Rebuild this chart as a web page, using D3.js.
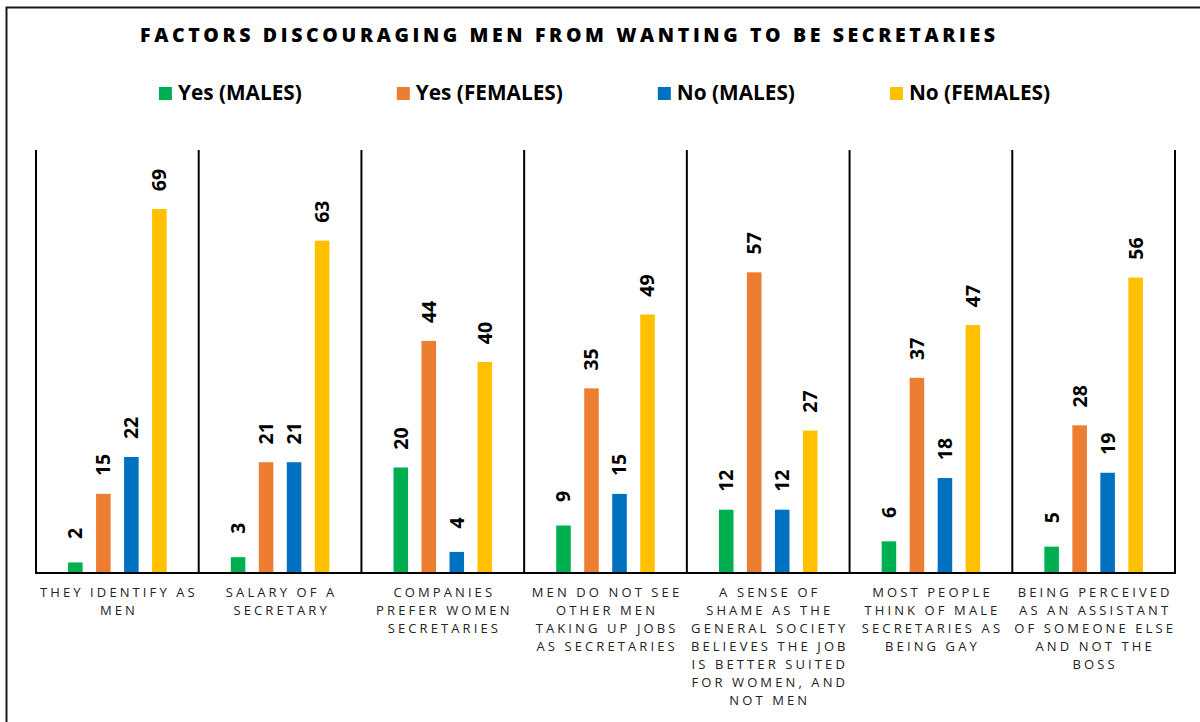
<!DOCTYPE html>
<html>
<head>
<meta charset="utf-8">
<script src="https://cdn.jsdelivr.net/npm/d3@7"></script>
<style>
  html, body { margin: 0; padding: 0; background: #fff; }
  svg { display: block; font-family: "Open Sans", "Noto Sans", sans-serif; }
</style>
</head>
<body>
<svg id="chart" width="1200" height="722"></svg>
<script>
// ---- data ----
const chartTitle = "FACTORS DISCOURAGING MEN FROM WANTING TO BE SECRETARIES";
const categories = [
  "THEY IDENTIFY AS MEN",
  "SALARY OF A SECRETARY",
  "COMPANIES PREFER WOMEN SECRETARIES",
  "MEN DO NOT SEE OTHER MEN TAKING UP JOBS AS SECRETARIES",
  "A SENSE OF SHAME AS THE GENERAL SOCIETY BELIEVES THE JOB IS BETTER SUITED FOR WOMEN, AND NOT MEN",
  "MOST PEOPLE THINK OF MALE SECRETARIES AS BEING GAY",
  "BEING PERCEIVED AS AN ASSISTANT OF SOMEONE ELSE AND NOT THE BOSS"
];
const seriesNames = ["Yes (MALES)", "Yes (FEMALES)", "No (MALES)", "No (FEMALES)"];
const yesMales   = [2, 3, 20, 9, 12, 6, 5];
const yesFemales = [15, 21, 44, 35, 57, 37, 28];
const noMales    = [22, 21, 4, 15, 12, 18, 19];
const noFemales  = [69, 63, 40, 49, 27, 47, 56];
const seriesColors = ["#00B050", "#ED7D31", "#0070C0", "#FFC000"];

const seriesValues = [yesMales, yesFemales, noMales, noFemales];
const rows = [];
categories.forEach((c, i) => {
  seriesNames.forEach((s, j) => rows.push({ cat: c, series: s, value: seriesValues[j][i], color: seriesColors[j] }));
});

// ---- layout ----
const svg = d3.select("#chart");
const plotLeft = 36, plotRight = 1175, plotTop = 150, plotBottom = 573;

svg.append("rect").attr("x", 0).attr("y", 0).attr("width", 1200).attr("height", 722).attr("fill", "#fff");
// outer chart border (extends past the visible area on the right and bottom)
svg.append("rect")
  .attr("x", 6.5).attr("y", 7.5).attr("width", 1300).attr("height", 900)
  .attr("fill", "none").attr("stroke", "#1a1a1a").attr("stroke-width", 2);

const x0 = d3.scaleBand().domain(categories).range([plotLeft, plotRight]).padding(0);
const bw = x0.bandwidth();
const x1 = d3.scaleBand().domain(seriesNames)
  .range([bw / 2 - 56, bw / 2 + 56]).paddingInner(0.48).paddingOuter(0.24);
const y = d3.scaleLinear().domain([0, 80]).range([plotBottom, plotTop + 1]);

// title
const title = svg.append("text")
  .attr("x", 140).attr("y", 41.5)
  .attr("font-size", 19.5).attr("font-weight", 800).attr("fill", "#000")
  .text(chartTitle);
{
  const w0 = title.node().getComputedTextLength();
  const ls = (855 - w0) / (chartTitle.length - 1);
  title.attr("letter-spacing", ls);
}

// legend
const legend = svg.append("g");
const items = legend.selectAll("g").data(seriesNames).join("g");
items.append("rect").attr("width", 13).attr("height", 13).attr("y", 87)
  .attr("fill", (d, i) => seriesColors[i]);
items.append("text").attr("x", 19).attr("y", 100)
  .attr("font-size", 20.8).attr("font-weight", 700).attr("fill", "#000")
  .text(d => d);
{
  const widths = [];
  items.each(function () {
    const w = d3.select(this).select("text").node().getComputedTextLength();
    widths.push(19 + w);
  });
  const gap = 95;
  const total = d3.sum(widths) + gap * (widths.length - 1);
  let start = 604.5 - total / 2;
  items.attr("transform", (d, i) => {
    const t = `translate(${start},0)`;
    start += widths[i] + gap;
    return t;
  });
}

// separators
const bounds = categories.map(c => x0(c)).concat([plotRight]);
svg.append("g").selectAll("line").data(bounds).join("line")
  .attr("x1", d => d).attr("x2", d => d)
  .attr("y1", plotTop).attr("y2", plotBottom)
  .attr("stroke", "#000").attr("stroke-width", 2);

// bars
const groups = svg.append("g").selectAll("g").data(categories).join("g")
  .attr("transform", d => `translate(${x0(d)},0)`);
groups.selectAll("rect").data(c => rows.filter(r => r.cat === c)).join("rect")
  .attr("x", d => x1(d.series)).attr("width", x1.bandwidth())
  .attr("y", d => y(d.value)).attr("height", d => y(0) - y(d.value))
  .attr("fill", d => d.color);

// value labels (rotated)
const lblSize = 19.5;
groups.selectAll("text.val").data(c => rows.filter(r => r.cat === c)).join("text")
  .attr("class", "val")
  .attr("transform", d => `translate(${x1(d.series) + x1.bandwidth() / 2},${y(d.value) - 29}) rotate(-90)`)
  .attr("text-anchor", "middle")
  .attr("dy", "0.357em")
  .attr("font-size", lblSize).attr("font-weight", 700).attr("fill", "#000")
  .text(d => d.value);

// baseline
svg.append("line").attr("x1", plotLeft - 1).attr("x2", plotRight + 1)
  .attr("y1", plotBottom).attr("y2", plotBottom)
  .attr("stroke", "#000").attr("stroke-width", 2);

// category labels (wrapped)
const catLS = 3.1, catSize = 13, lineH = 18, maxW = 165;
const catText = svg.append("g").selectAll("text").data(categories).join("text")
  .attr("x", d => x0(d) + bw / 2 + catLS / 2)
  .attr("y", 597)
  .attr("text-anchor", "middle")
  .attr("font-size", catSize).attr("letter-spacing", catLS).attr("fill", "#222");
catText.each(function (d) {
  const t = d3.select(this);
  const words = d.split(" ");
  let line = [];
  let lineNo = 0;
  let tspan = t.append("tspan").attr("x", t.attr("x")).attr("y", 597);
  words.forEach(w => {
    line.push(w);
    tspan.text(line.join(" "));
    if (tspan.node().getComputedTextLength() > maxW && line.length > 1) {
      line.pop();
      tspan.text(line.join(" "));
      line = [w];
      lineNo++;
      tspan = t.append("tspan").attr("x", t.attr("x")).attr("y", 597 + lineNo * lineH).text(w);
    }
  });
});
</script>
</body>
</html>
